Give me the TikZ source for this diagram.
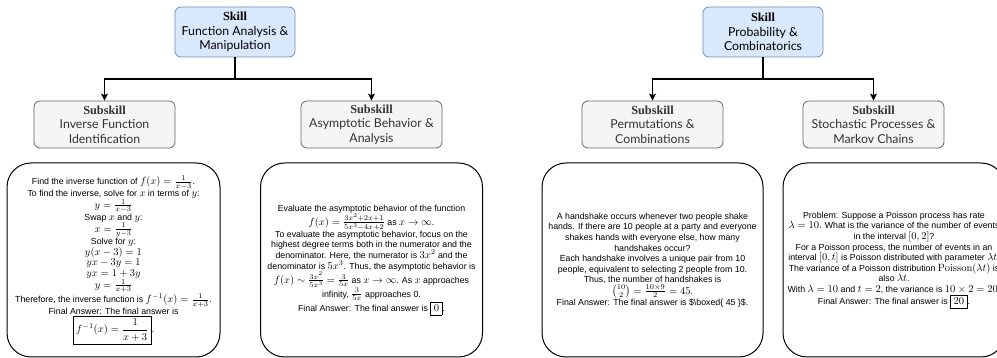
\IfFileExists{fix-cm.sty}{\RequirePackage{fix-cm}}{}
\documentclass[tikz,border=0pt]{standalone}
\usepackage{amsmath}
\usepackage[no-math]{fontspec}
\newfontfamily\arialf{Liberation Sans}
\newfontfamily\latof{Lato}
\newfontfamily\serifb{Liberation Serif}
\DeclareMathSizes{8.8}{10.5}{7.4}{6}
\usetikzlibrary{arrows.meta}
\definecolor{skillfill}{HTML}{DAE8FC}
\definecolor{skilldraw}{HTML}{6C8EBF}
\definecolor{subfill}{HTML}{F5F5F5}
\definecolor{subdraw}{HTML}{666666}
\definecolor{subtext}{HTML}{333333}
\tikzset{
 skillbox/.style={draw=skilldraw, fill=skillfill, rounded corners=6pt, minimum width=120pt, minimum height=50pt, align=center, line width=0.8pt, inner sep=0pt, font=\latof\fontsize{12.3}{14.5}\selectfont},
 subbox/.style={draw=subdraw, fill=subfill, rounded corners=6pt, minimum width=141pt, minimum height=47pt, align=center, text=subtext, line width=0.8pt, inner sep=0pt, font=\latof\fontsize{12.3}{14.5}\selectfont},
 bodybox/.style={draw=black, line width=1pt, rounded corners=24pt, minimum height=194pt, inner sep=0pt},
 bodytext/.style={align=center, font=\arialf\fontsize{8.8}{10.6}\selectfont, inner sep=0pt},
 conn/.style={line width=1.2pt, -{Stealth[length=7pt,width=7pt,inset=1.5pt]}},
}
\newcommand{\hd}[1]{{\serifb\bfseries #1}}
\begin{document}
\begin{tikzpicture}[x=1pt,y=-1pt]
\useasboundingbox (0,0) rectangle (997,358);
\clip (0,0) rectangle (997,358);
% skills
\node[skillbox] (s1) at (235,32) {\hd{Skill}\\Function Analysis \&\\Manipulation};
\node[skillbox] (s2) at (763,32) {\hd{Skill}\\Probability \&\\Combinatorics};
% subskills
\node[subbox] (ss1) at (104.5,124.5) {\hd{Subskill}\\Inverse Function\\Identification};
\node[subbox] (ss2) at (371.5,124.5) {\hd{Subskill}\\Asymptotic Behavior \&\\Analysis};
\node[subbox] (ss3) at (652.5,124.5) {\hd{Subskill}\\Permutations \&\\Combinations};
\node[subbox] (ss4) at (873.5,124.5) {\hd{Subskill}\\Stochastic Processes \&\\Markov Chains};
% connectors
\coordinate (j1) at (235,79);
\coordinate (j2) at (763,79);
\draw[conn] (s1.south) -- (j1) -| (ss1.north);
\draw[conn] (s1.south) -- (j1) -| (ss2.north);
\draw[conn] (s2.south) -- (j2) -| (ss3.north);
\draw[conn] (s2.south) -- (j2) -| (ss4.north);
% body boxes
\node[bodybox, minimum width=213pt] (b1) at (113.5,260) {};
\node[bodybox, minimum width=222pt] (b2) at (371.5,260) {};
\node[bodybox, minimum width=221pt] (b3) at (652.5,260) {};
\node[bodybox, minimum width=222pt] (b4) at (894,260) {};
\node[bodytext] (t1) at (b1.center) {Find the inverse function of $f(x) = \frac{1}{x-3}$.\\
To find the inverse, solve for $x$ in terms of $y$:\\
$y = \frac{1}{x-3}$\\
Swap $x$ and $y$:\\
$x = \frac{1}{y-3}$\\
Solve for $y$:\\
$y(x-3) = 1$\\
$yx - 3y = 1$\\
$yx = 1 + 3y$\\
$y = \frac{1}{x+3}$\\
Therefore, the inverse function is $f^{-1}(x) = \frac{1}{x+3}$.\\
Final Answer: The final answer is\\
$\boxed{f^{-1}(x) = \dfrac{1}{x+3}}$.};
\node[bodytext] (t2) at (b2.center) {Evaluate the asymptotic behavior of the function\\
$f(x) = \frac{3x^2+2x+1}{5x^3-4x+2}$ as $x \to \infty$.\\
To evaluate the asymptotic behavior, focus on the\\
highest degree terms both in the numerator and the\\
denominator. Here, the numerator is $3x^2$ and the\\
denominator is $5x^3$. Thus, the asymptotic behavior is\\
$f(x) \sim \frac{3x^2}{5x^3} = \frac{3}{5x}$ as $x \to \infty$. As $x$ approaches\\
infinity, $\frac{3}{5x}$ approaches 0.\\
Final Answer: The final answer is $\boxed{0}$.};
\node[bodytext] (t3) at (b3.center) {A handshake occurs whenever two people shake\\
hands. If there are 10 people at a party and everyone\\
shakes hands with everyone else, how many\\
handshakes occur?\\
Each handshake involves a unique pair from 10\\
people, equivalent to selecting 2 people from 10.\\
Thus, the number of handshakes is\\[0.5pt]
$\binom{10}{2} = \frac{10\times 9}{2} = 45$.\\[0.5pt]
Final Answer: The final answer is \$\textbackslash boxed\{ 45 \}\$.};
\node[bodytext] (t4) at (b4.center) {Problem: Suppose a Poisson process has rate\\
$\lambda = 10$. What is the variance of the number of events\\
in the interval $[0, 2]$?\\
For a Poisson process, the number of events in an\\
interval $[0, t]$ is Poisson distributed with parameter $\lambda t$.\\
The variance of a Poisson distribution $\mathrm{Poisson}(\lambda t)$ is\\
also $\lambda t$.\\
With $\lambda = 10$ and $t = 2$, the variance is $10 \times 2 = 20$.\\
Final Answer: The final answer is $\boxed{20}$.};
\end{tikzpicture}
\end{document}
